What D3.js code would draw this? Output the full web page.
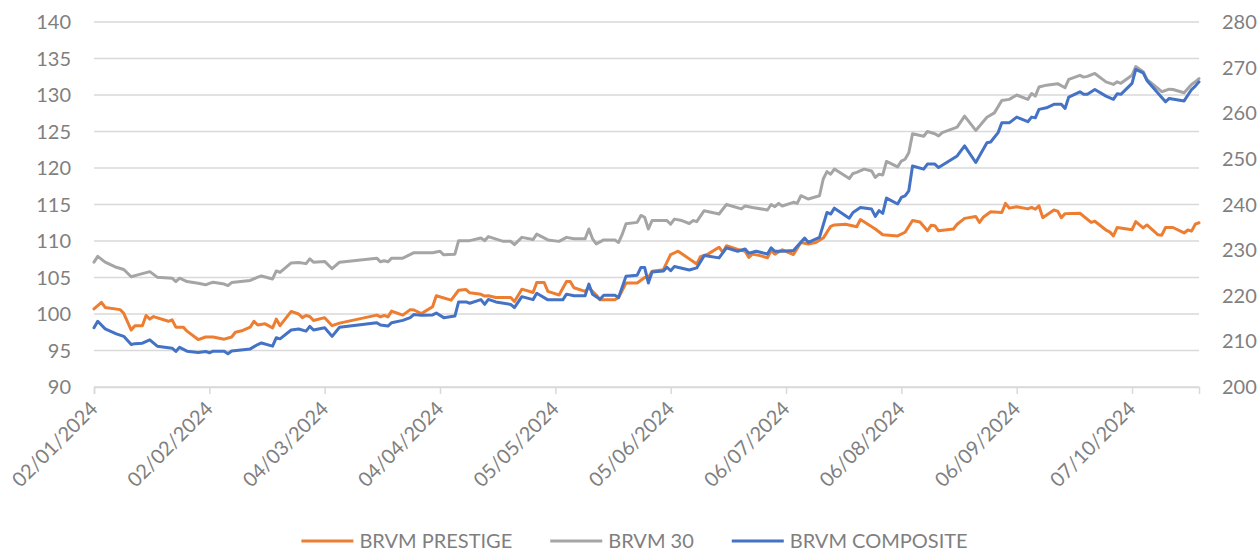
<!DOCTYPE html>
<html>
<head>
<meta charset="utf-8">
<script src="https://cdn.jsdelivr.net/npm/d3@7"></script>
<style>
body { margin: 0; background: #fff; }
svg text { font-family: Lato, "Open Sans", sans-serif; fill: #7f7f7f; }
</style>
</head>
<body>
<div id="chart"></div>
<script>
// all dates are in 2024, written MM-DD
var YEAR = 2024;

// BRVM PRESTIGE (left axis)
var prestige = [
  ["01-02",100.7],["01-04",101.6],["01-05",100.9],["01-09",100.6],["01-10",100.1],["01-12",97.8],
  ["01-13",98.4],["01-15",98.4],["01-16",99.8],["01-17",99.3],["01-18",99.65],["01-22",99.0],
  ["01-23",99.2],["01-24",98.2],["01-26",98.2],["01-27",97.65],["01-30",96.5],["02-01",96.85],
  ["02-03",96.85],["02-06",96.55],["02-08",96.85],["02-09",97.5],["02-11",97.75],["02-13",98.2],
  ["02-14",99.0],["02-15",98.5],["02-17",98.65],["02-19",98.1],["02-20",99.3],["02-21",98.4],
  ["02-24",100.35],["02-26",100.0],["02-27",99.5],["02-28",99.8],["02-29",99.65],["03-01",99.1],
  ["03-04",99.5],["03-06",98.4],["03-08",98.75],["03-18",99.85],["03-19",99.6],["03-20",99.8],
  ["03-21",99.6],["03-22",100.4],["03-25",99.85],["03-27",100.6],["03-28",100.55],["03-30",100.05],
  ["04-02",101.0],["04-03",102.5],["04-07",101.9],["04-09",103.25],["04-11",103.35],["04-12",102.9],
  ["04-15",102.7],["04-16",102.45],["04-17",102.5],["04-19",102.25],["04-23",102.25],["04-24",101.7],
  ["04-26",103.4],["04-29",102.95],["04-30",104.3],["05-02",104.3],["05-03",103.1],["05-06",102.6],
  ["05-08",104.45],["05-09",104.45],["05-10",103.6],["05-13",103.1],["05-14",103.6],["05-16",102.6],
  ["05-17",101.95],["05-21",101.95],["05-22",102.25],["05-24",104.25],["05-27",104.25],["05-29",105.0],
  ["05-30",105.0],["05-31",105.85],["06-03",106.05],["06-04",107.1],["06-05",108.15],["06-07",108.6],
  ["06-08",108.25],["06-12",106.85],["06-13",107.85],["06-15",108.2],["06-18",109.15],["06-19",108.45],
  ["06-20",109.35],["06-23",108.85],["06-25",108.6],["06-26",107.75],["06-27",108.2],["06-29",108.0],
  ["07-01",107.7],["07-02",108.7],["07-03",108.2],["07-05",108.8],["07-08",108.15],["07-10",109.8],
  ["07-12",109.6],["07-14",109.8],["07-16",110.4],["07-18",112.0],["07-19",112.2],["07-22",112.3],
  ["07-25",111.95],["07-26",112.95],["07-28",112.3],["07-30",111.65],["08-01",110.85],["08-05",110.7],
  ["08-07",111.2],["08-09",112.8],["08-11",112.6],["08-13",111.4],["08-14",112.15],["08-15",112.1],
  ["08-16",111.4],["08-20",111.65],["08-21",112.3],["08-23",113.1],["08-26",113.35],["08-27",112.55],
  ["08-28",113.25],["08-30",114.0],["09-02",113.9],["09-03",115.15],["09-04",114.5],["09-06",114.7],
  ["09-09",114.4],["09-10",114.6],["09-11",114.35],["09-12",114.8],["09-13",113.2],["09-16",114.25],
  ["09-17",114.1],["09-18",113.2],["09-19",113.75],["09-23",113.8],["09-26",112.55],["09-27",112.7],
  ["09-30",111.5],["10-01",111.25],["10-02",110.7],["10-03",111.85],["10-07",111.55],["10-08",112.65],
  ["10-10",111.8],["10-11",112.2],["10-14",110.85],["10-15",110.8],["10-16",111.85],["10-18",111.85],
  ["10-21",111.1],["10-22",111.5],["10-23",111.35],["10-24",112.3],["10-25",112.5]
];

// BRVM 30 (left axis)
var brvm30 = [
  ["01-02",107.1],["01-03",107.9],["01-05",107.1],["01-08",106.4],["01-10",106.1],["01-12",105.1],
  ["01-14",105.4],["01-17",105.8],["01-19",105.05],["01-23",104.9],["01-24",104.45],["01-25",104.9],
  ["01-27",104.45],["01-30",104.2],["02-01",104.0],["02-02",104.2],["02-03",104.35],["02-06",104.1],
  ["02-07",103.9],["02-08",104.3],["02-13",104.6],["02-15",105.05],["02-16",105.2],["02-19",104.8],
  ["02-20",105.9],["02-21",105.7],["02-24",107.0],["02-26",107.05],["02-28",106.9],["02-29",107.55],
  ["03-01",107.1],["03-04",107.2],["03-06",106.2],["03-08",107.1],["03-18",107.65],["03-19",107.15],
  ["03-20",107.3],["03-21",107.15],["03-22",107.65],["03-25",107.65],["03-28",108.4],["04-02",108.4],
  ["04-04",108.6],["04-05",108.1],["04-08",108.2],["04-09",110.05],["04-12",110.05],["04-15",110.4],
  ["04-16",110.05],["04-17",110.6],["04-21",109.95],["04-23",109.95],["04-24",109.5],["04-26",110.5],
  ["04-29",110.2],["04-30",110.95],["05-03",110.15],["05-06",109.95],["05-08",110.5],["05-10",110.3],
  ["05-13",110.3],["05-14",111.65],["05-15",110.3],["05-16",109.6],["05-18",110.15],["05-21",110.15],
  ["05-22",109.8],["05-23",110.95],["05-24",112.35],["05-27",112.55],["05-28",113.5],["05-29",113.25],
  ["05-30",111.65],["05-31",112.8],["06-04",112.8],["06-05",112.3],["06-06",113.0],["06-08",112.8],
  ["06-10",112.4],["06-11",112.8],["06-12",112.65],["06-14",114.15],["06-18",113.7],["06-20",115.0],
  ["06-24",114.4],["06-25",114.8],["06-27",114.6],["07-01",114.25],["07-02",115.0],["07-03",114.7],
  ["07-04",115.15],["07-05",114.8],["07-08",115.3],["07-09",115.15],["07-10",116.2],["07-12",115.75],
  ["07-15",116.2],["07-16",118.5],["07-17",119.5],["07-18",119.15],["07-19",119.85],["07-23",118.55],
  ["07-24",119.25],["07-25",119.4],["07-27",119.85],["07-29",119.6],["07-30",118.7],["07-31",119.15],
  ["08-01",119.05],["08-02",120.9],["08-05",120.15],["08-06",120.95],["08-07",121.2],["08-08",122.1],
  ["08-09",124.7],["08-12",124.35],["08-13",125.0],["08-15",124.7],["08-16",124.4],["08-17",124.85],
  ["08-21",125.6],["08-23",127.1],["08-26",125.15],["08-29",126.95],["08-31",127.55],["09-02",129.25],
  ["09-04",129.4],["09-06",130.0],["09-09",129.4],["09-10",130.2],["09-11",129.85],["09-12",131.1],
  ["09-14",131.35],["09-17",131.55],["09-19",131.0],["09-20",132.15],["09-23",132.7],["09-24",132.45],
  ["09-25",132.55],["09-27",132.95],["09-30",131.8],["10-02",131.45],["10-03",131.8],["10-04",131.6],
  ["10-07",132.7],["10-08",133.9],["10-10",133.2],["10-11",132.15],["10-15",130.45],["10-17",130.8],
  ["10-18",130.75],["10-21",130.3],["10-23",131.45],["10-24",131.8],["10-25",132.25]
];

// BRVM COMPOSITE (right axis)
var composite = [
  ["01-02",213.0],["01-03",214.4],["01-05",212.75],["01-08",211.65],["01-10",211.1],["01-12",209.3],
  ["01-13",209.5],["01-15",209.6],["01-17",210.35],["01-19",208.95],["01-23",208.5],["01-24",207.8],
  ["01-25",208.7],["01-27",207.85],["01-30",207.55],["02-01",207.8],["02-02",207.5],["02-03",207.85],
  ["02-06",207.85],["02-07",207.3],["02-08",207.9],["02-13",208.35],["02-15",209.3],["02-16",209.65],
  ["02-19",208.95],["02-20",210.8],["02-21",210.55],["02-24",212.5],["02-26",212.7],["02-28",212.25],
  ["02-29",213.3],["03-01",212.5],["03-04",213.0],["03-06",211.1],["03-08",213.1],["03-18",214.1],
  ["03-19",213.6],["03-21",213.35],["03-22",214.1],["03-25",214.6],["03-27",215.2],["03-28",215.9],
  ["03-30",215.7],["04-02",215.8],["04-03",216.2],["04-05",215.2],["04-08",215.55],["04-09",218.65],
  ["04-11",218.65],["04-12",218.35],["04-15",219.15],["04-16",218.1],["04-17",219.2],["04-19",218.65],
  ["04-23",218.1],["04-24",217.4],["04-26",219.8],["04-29",219.15],["04-30",220.55],["05-03",219.1],
  ["05-07",219.1],["05-08",220.35],["05-10",220.0],["05-13",220.0],["05-14",222.55],["05-15",220.35],
  ["05-17",219.25],["05-18",220.1],["05-21",220.1],["05-22",219.6],["05-24",224.3],["05-27",224.5],
  ["05-28",226.2],["05-29",226.2],["05-30",222.8],["05-31",225.2],["06-03",225.4],["06-04",226.25],
  ["06-05",225.5],["06-06",226.4],["06-10",225.65],["06-12",226.1],["06-14",228.8],["06-18",228.3],
  ["06-20",230.5],["06-23",229.75],["06-25",230.25],["06-26",229.3],["06-28",229.75],["07-01",229.15],
  ["07-02",230.5],["07-03",229.75],["07-05",229.75],["07-08",229.9],["07-11",232.65],["07-12",231.7],
  ["07-15",232.8],["07-17",238.25],["07-18",237.9],["07-19",239.2],["07-23",237.0],["07-24",238.25],
  ["07-26",239.35],["07-29",239.0],["07-30",237.4],["07-31",238.65],["08-01",238.05],["08-02",241.4],
  ["08-05",240.1],["08-06",241.55],["08-07",241.9],["08-08",243.0],["08-09",248.45],["08-12",247.75],
  ["08-13",248.85],["08-15",248.85],["08-16",248.1],["08-21",250.65],["08-23",252.85],["08-26",249.2],
  ["08-29",253.55],["08-30",253.7],["09-01",255.75],["09-02",257.9],["09-04",257.9],["09-06",259.15],
  ["09-09",258.15],["09-10",259.15],["09-11",259.0],["09-12",260.85],["09-14",261.2],["09-16",261.95],
  ["09-18",261.95],["09-19",261.05],["09-20",263.55],["09-23",264.7],["09-24",264.15],["09-25",264.15],
  ["09-27",265.2],["09-30",263.75],["10-02",263.05],["10-03",264.25],["10-04",264.15],["10-07",266.55],
  ["10-08",269.6],["10-10",268.85],["10-11",267.2],["10-16",262.5],["10-17",263.25],["10-21",262.7],
  ["10-23",265.2],["10-24",265.95],["10-25",266.9]
];

var seriesNames  = ["BRVM PRESTIGE", "BRVM 30", "BRVM COMPOSITE"];
var seriesColors = ["#ED7D31", "#A5A5A5", "#4472C4"];

// Excel date axis: one label every 31 days
var xTickDates = ["01-02","02-02","03-04","04-04","05-05","06-05","07-06","08-06","09-06","10-07"];
var xStart = "01-02", xEnd = "10-25";
var leftTicks  = [90, 95, 100, 105, 110, 115, 120, 125, 130, 135, 140];
var rightTicks = [200, 210, 220, 230, 240, 250, 260, 270, 280];

var width = 1259, height = 553;
var plotLeft = 94, plotRight = 1199, plotTop = 22, plotBottom = 387;

var parse = d3.timeParse("%Y-%m-%d");
function toDate(md) { return parse(YEAR + "-" + md); }
var fmt = d3.timeFormat("%d/%m/%Y");

var svg = d3.select("#chart").append("svg")
  .attr("width", width)
  .attr("height", height);

var x = d3.scaleTime()
  .domain([toDate(xStart), toDate(xEnd)])
  .range([plotLeft, plotRight]);

var yLeft = d3.scaleLinear().domain([90, 140]).range([plotBottom, plotTop]);
var yRight = d3.scaleLinear().domain([200, 280]).range([plotBottom, plotTop]);

// gridlines
svg.append("g")
  .selectAll("line")
  .data(leftTicks)
  .enter().append("line")
    .attr("x1", plotLeft).attr("x2", plotRight)
    .attr("y1", function(d) { return yLeft(d); })
    .attr("y2", function(d) { return yLeft(d); })
    .attr("stroke", "#d9d9d9")
    .attr("stroke-width", 1.5);

// bottom axis with ticks
var xAxis = d3.axisBottom(x)
  .tickValues(xTickDates.map(toDate))
  .tickSize(7)
  .tickFormat("");
var gx = svg.append("g")
  .attr("transform", "translate(0," + plotBottom + ")")
  .call(xAxis);
gx.select(".domain").attr("stroke", "#d9d9d9").attr("stroke-width", 1.5);
gx.selectAll(".tick line").attr("stroke", "#d9d9d9").attr("stroke-width", 1.5);

// rotated date labels
svg.append("g")
  .selectAll("text")
  .data(xTickDates.map(toDate))
  .enter().append("text")
    .attr("transform", function(d) { return "translate(" + x(d) + "," + (plotBottom + 18) + ") rotate(-45)"; })
    .attr("text-anchor", "end")
    .attr("dy", "0.35em")
    .style("font-size", "20px")
    .text(function(d) { return fmt(d); });

// left axis labels
svg.append("g")
  .selectAll("text")
  .data(leftTicks)
  .enter().append("text")
    .attr("x", 71)
    .attr("y", function(d) { return yLeft(d); })
    .attr("dy", "0.35em")
    .attr("text-anchor", "end")
    .style("font-size", "20px")
    .text(function(d) { return d; });

// right axis labels
svg.append("g")
  .selectAll("text")
  .data(rightTicks)
  .enter().append("text")
    .attr("x", 1222)
    .attr("y", function(d) { return yRight(d); })
    .attr("dy", "0.35em")
    .attr("text-anchor", "start")
    .style("font-size", "20px")
    .text(function(d) { return d; });

// series lines
var series = [
  { data: prestige, y: yLeft },
  { data: brvm30, y: yLeft },
  { data: composite, y: yRight }
];

series.forEach(function(s, i) {
  var line = d3.line()
    .x(function(d) { return x(toDate(d[0])); })
    .y(function(d) { return s.y(d[1]); });
  svg.append("path")
    .datum(s.data)
    .attr("d", line)
    .attr("fill", "none")
    .attr("stroke", seriesColors[i])
    .attr("stroke-width", 3)
    .attr("stroke-linejoin", "round")
    .attr("stroke-linecap", "round");
});

// legend, centred under the chart
var legY = 541, lineLen = 52, lineGap = 6, itemGap = 38;
var leg = svg.append("g");
var items = seriesNames.map(function(name, i) {
  var g = leg.append("g");
  g.append("line")
    .attr("x1", 0).attr("x2", lineLen)
    .attr("y1", 0).attr("y2", 0)
    .attr("stroke", seriesColors[i])
    .attr("stroke-width", 3);
  var t = g.append("text")
    .attr("x", lineLen + lineGap)
    .attr("dy", "0.35em")
    .style("font-size", "20px")
    .text(name);
  return { g: g, w: lineLen + lineGap + t.node().getComputedTextLength() };
});
var total = d3.sum(items, function(d) { return d.w; }) + itemGap * (items.length - 1);
var cx = 634.5 - total / 2;
items.forEach(function(it) {
  it.g.attr("transform", "translate(" + cx + "," + legY + ")");
  cx += it.w + itemGap;
});
</script>
</body>
</html>
